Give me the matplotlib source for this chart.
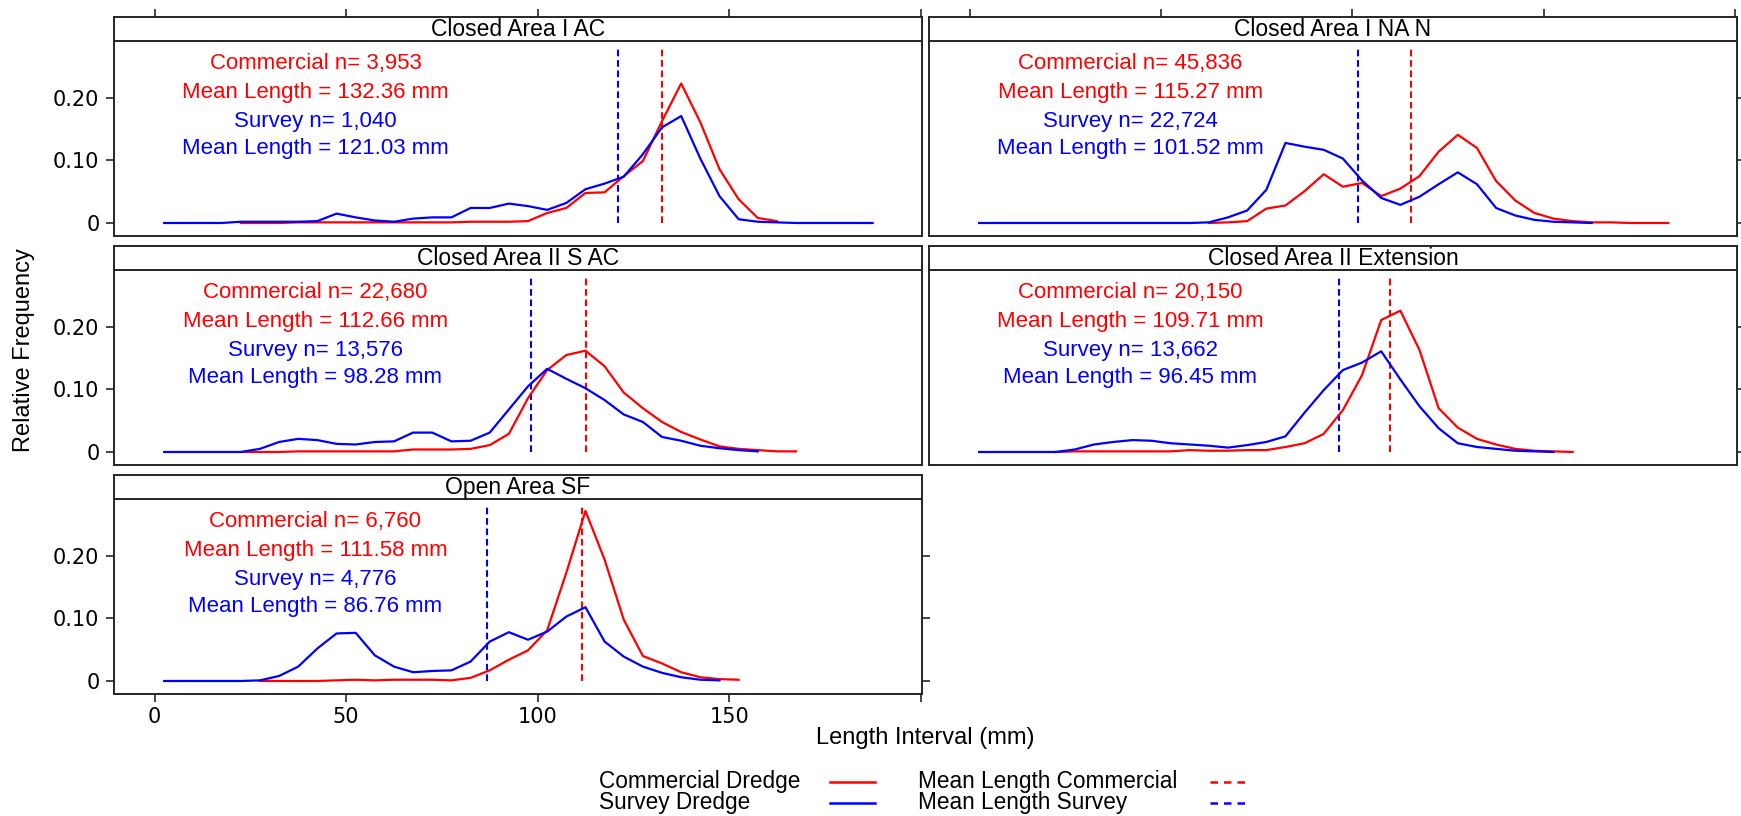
import numpy as np
import matplotlib
matplotlib.use("Agg")
import matplotlib.pyplot as plt
from matplotlib.lines import Line2D

nan = np.nan

# ---------------- data ----------------
length_bins = [2.5, 7.5, 12.5, 17.5, 22.5, 27.5, 32.5, 37.5, 42.5, 47.5,
               52.5, 57.5, 62.5, 67.5, 72.5, 77.5, 82.5, 87.5, 92.5, 97.5,
               102.5, 107.5, 112.5, 117.5, 122.5, 127.5, 132.5, 137.5, 142.5, 147.5,
               152.5, 157.5, 162.5, 167.5, 172.5, 177.5, 182.5, 187.5]

panel_titles = ["Closed Area I AC", "Closed Area I NA N", "Closed Area II S AC",
                "Closed Area II Extension", "Open Area SF"]

commercial_n = ["3,953", "45,836", "22,680", "20,150", "6,760"]
survey_n = ["1,040", "22,724", "13,576", "13,662", "4,776"]
commercial_mean = [132.36, 115.27, 112.66, 109.71, 111.58]
survey_mean = [121.03, 101.52, 98.28, 96.45, 86.76]

# relative frequency per length bin (nan = no fish in that bin)
commercial_ca1_ac = [nan, nan, nan, nan, 0.0, 0.0, 0.0, 0.001, 0.001, 0.001,
                     0.001, 0.001, 0.001, 0.001, 0.001, 0.001, 0.002, 0.002, 0.002, 0.003,
                     0.016, 0.024, 0.048, 0.049, 0.075, 0.099, 0.163, 0.223, 0.161, 0.086,
                     0.038, 0.008, 0.003, nan, nan, nan, nan, nan]
survey_ca1_ac = [0.0, 0.0, 0.0, 0.0, 0.002, 0.002, 0.002, 0.002, 0.003, 0.015,
                 0.009, 0.004, 0.002, 0.007, 0.009, 0.009, 0.024, 0.024, 0.031, 0.027,
                 0.021, 0.032, 0.054, 0.063, 0.074, 0.110, 0.153, 0.171, 0.103, 0.043,
                 0.006, 0.002, 0.001, 0.0, 0.0, 0.0, 0.0, 0.0]

commercial_ca1_nan = [nan, nan, nan, nan, nan, nan, nan, nan, nan, nan,
                      nan, nan, 0.0, 0.001, 0.003, 0.023, 0.028, 0.051, 0.078, 0.058,
                      0.064, 0.043, 0.055, 0.075, 0.114, 0.141, 0.120, 0.067, 0.036, 0.016,
                      0.007, 0.003, 0.001, 0.001, 0.0, 0.0, 0.0, nan]
survey_ca1_nan = [0.0, 0.0, 0.0, 0.0, 0.0, 0.0, 0.0, 0.0, 0.0, 0.0,
                  0.0, 0.0, 0.001, 0.009, 0.020, 0.053, 0.128, 0.122, 0.117, 0.103,
                  0.068, 0.040, 0.029, 0.042, 0.062, 0.081, 0.062, 0.024, 0.012, 0.005,
                  0.002, 0.001, 0.0, nan, nan, nan, nan, nan]

commercial_ca2_sac = [nan, nan, nan, nan, 0.0, 0.0, 0.0, 0.001, 0.001, 0.001,
                      0.001, 0.001, 0.001, 0.004, 0.004, 0.004, 0.005, 0.011, 0.029, 0.086,
                      0.131, 0.155, 0.162, 0.137, 0.095, 0.070, 0.048, 0.032, 0.020, 0.009,
                      0.005, 0.003, 0.001, 0.001, nan, nan, nan, nan]
survey_ca2_sac = [0.0, 0.0, 0.0, 0.0, 0.0, 0.005, 0.016, 0.021, 0.019, 0.013,
                  0.012, 0.016, 0.017, 0.031, 0.031, 0.017, 0.018, 0.031, 0.068, 0.105,
                  0.133, 0.117, 0.102, 0.083, 0.060, 0.048, 0.024, 0.018, 0.010, 0.006,
                  0.003, 0.001, nan, nan, nan, nan, nan, nan]

commercial_ca2_ext = [nan, nan, nan, nan, 0.0, 0.001, 0.001, 0.001, 0.001, 0.001,
                      0.001, 0.003, 0.002, 0.002, 0.003, 0.003, 0.008, 0.014, 0.029, 0.067,
                      0.123, 0.211, 0.226, 0.163, 0.070, 0.039, 0.021, 0.012, 0.005, 0.002,
                      0.001, 0.0, nan, nan, nan, nan, nan, nan]
survey_ca2_ext = [0.0, 0.0, 0.0, 0.0, 0.0, 0.004, 0.012, 0.016, 0.019, 0.018,
                  0.014, 0.012, 0.010, 0.007, 0.011, 0.016, 0.025, 0.063, 0.099, 0.131,
                  0.143, 0.161, 0.116, 0.073, 0.038, 0.014, 0.008, 0.005, 0.002, 0.001,
                  0.0, nan, nan, nan, nan, nan, nan, nan]

commercial_oa_sf = [nan, nan, nan, nan, nan, 0.0, 0.0, 0.0, 0.0, 0.001,
                    0.002, 0.001, 0.002, 0.002, 0.002, 0.001, 0.005, 0.017, 0.034, 0.049,
                    0.081, 0.173, 0.272, 0.194, 0.098, 0.040, 0.028, 0.014, 0.006, 0.003,
                    0.002, nan, nan, nan, nan, nan, nan, nan]
survey_oa_sf = [0.0, 0.0, 0.0, 0.0, 0.0, 0.001, 0.008, 0.023, 0.052, 0.076,
                0.077, 0.041, 0.023, 0.014, 0.016, 0.017, 0.031, 0.063, 0.078, 0.066,
                0.079, 0.103, 0.118, 0.063, 0.039, 0.023, 0.013, 0.006, 0.002, 0.001,
                nan, nan, nan, nan, nan, nan, nan, nan]

commercial_series = [commercial_ca1_ac, commercial_ca1_nan, commercial_ca2_sac,
                     commercial_ca2_ext, commercial_oa_sf]
survey_series = [survey_ca1_ac, survey_ca1_nan, survey_ca2_sac,
                 survey_ca2_ext, survey_oa_sf]

mean_line_top = 0.28
y_ticks = [0, 0.10, 0.20]
y_tick_labels = ["0", "0.10", "0.20"]
x_ticks = [0, 50, 100, 150, 200]
x_tick_labels = ["0", "50", "100", "150", ""]

legend_labels = ["Commercial Dredge", "Survey Dredge",
                 "Mean Length Commercial", "Mean Length Survey"]

# ---------------- style ----------------
RED = "#FF0000"
BLUE = "#0000FF"
FRAME = "#262626"
TXT_FONT = ["Liberation Sans", "DejaVu Sans"]
TICK_FONT = ["DejaVu Sans"]

W, H = 1741, 816
fig = plt.figure(figsize=(W / 100, H / 100), dpi=100)

col_left = [114.4, 929.3]
col_w = 807.3
row_top = [16.5, 245.5, 474.5]
strip_h = 24.5
plot_h = 194.5

positions = [(0, 0), (0, 1), (1, 0), (1, 1), (2, 0)]
XLIM = (-10.5, 200.3)
YLIM = (-0.02, 0.291)
DASH = (0, (3.2, 1.8))
ANN_Y = [0.255, 0.209, 0.163, 0.119]
ANN_X = 42


def fig_rect(x, y, w, h):
    return [x / W, 1 - (y + h) / H, w / W, h / H]


for i, (r, c) in enumerate(positions):
    x0 = col_left[c]
    ys = row_top[r]
    ax = fig.add_axes(fig_rect(x0, ys + strip_h, col_w, plot_h))
    sax = fig.add_axes(fig_rect(x0, ys, col_w, strip_h))

    # data lines
    ax.plot(length_bins, commercial_series[i], color=RED, lw=1.6, zorder=3)
    ax.plot(length_bins, survey_series[i], color=BLUE, lw=1.6, zorder=3)
    ax.vlines([commercial_mean[i]], 0, mean_line_top, colors=RED, lw=1.5,
              linestyles=[DASH], zorder=2)
    ax.vlines([survey_mean[i]], 0, mean_line_top, colors=BLUE, lw=1.5,
              linestyles=[DASH], zorder=2)

    # annotation text
    ann = [(f"Commercial n= {commercial_n[i]}", RED),
           (f"Mean Length = {commercial_mean[i]:.2f} mm", RED),
           (f"Survey n= {survey_n[i]}", BLUE),
           (f"Mean Length = {survey_mean[i]:.2f} mm", BLUE)]
    for (txt, col), yy in zip(ann, ANN_Y):
        ax.text(ANN_X, yy, txt, color=col, ha="center", va="center",
                fontsize=16, family=TXT_FONT)

    ax.set_xlim(*XLIM)
    ax.set_ylim(*YLIM)
    for sp in ax.spines.values():
        sp.set_color(FRAME)
        sp.set_linewidth(1.4)

    # ticks
    ax.set_yticks(y_ticks)
    ax.set_xticks(x_ticks)
    left_lab = (c == 0)
    right_ticks = (c == 1) or (i == 4)
    bottom = (i == 4)
    ax.tick_params(axis="y", direction="out", length=5.8, width=1.2, color=FRAME,
                   left=left_lab, labelleft=left_lab, right=right_ticks,
                   labelright=False, pad=5)
    ax.tick_params(axis="x", direction="out", length=5.8, width=1.2, color=FRAME,
                   bottom=bottom, labelbottom=bottom, top=False, labeltop=False,
                   pad=4)
    ax.set_yticklabels(y_tick_labels)
    ax.set_xticklabels(x_tick_labels)
    for lab in ax.get_yticklabels() + ax.get_xticklabels():
        lab.set_family(TICK_FONT)
        lab.set_fontsize(15)

    # strip
    sax.set_xlim(*XLIM)
    sax.set_ylim(0, 1)
    sax.set_facecolor("white")
    for sp in sax.spines.values():
        sp.set_color(FRAME)
        sp.set_linewidth(1.4)
    sax.set_yticks([])
    sax.set_xticks(x_ticks)
    sax.tick_params(axis="x", direction="out", length=5.8, width=1.2, color=FRAME,
                    bottom=False, labelbottom=False, top=(r == 0), labeltop=False)
    sax.text(0.5, 0.45, panel_titles[i], transform=sax.transAxes, ha="center",
             va="center", fontsize=16.5, family=TXT_FONT, color="black")

# axis labels
fig.text(24 / W, 1 - 350 / H, "Relative Frequency", rotation=90, ha="center",
         va="center", fontsize=17, family=TXT_FONT)
fig.text(925.5 / W, 1 - 738 / H, "Length Interval (mm)", ha="center",
         va="center", fontsize=17, family=TXT_FONT)

# legend (manual, to get left-aligned text followed by key)
lax = fig.add_axes([0, 0, 1, 1], facecolor="none")
lax.set_xlim(0, W)
lax.set_ylim(H, 0)
lax.axis("off")
leg_rows = [781.5, 802.5]
leg_cols = [(599, 830, 875), (917.5, 1210, 1250)]
leg_styles = [(RED, "-"), (BLUE, "-"), (RED, (0, (3.0, 2.4))), (BLUE, (0, (3.0, 2.4)))]
k = 0
for (tx, lx0, lx1) in leg_cols:
    for ry in leg_rows:
        col, ls = leg_styles[k]
        lax.text(tx, ry, legend_labels[k], ha="left", va="center",
                 fontsize=16.3, family=TXT_FONT)
        lax.add_line(Line2D([lx0, lx1], [ry, ry], color=col, lw=1.8, linestyle=ls))
        k += 1

fig.savefig("out.png", dpi=100, facecolor="white")
